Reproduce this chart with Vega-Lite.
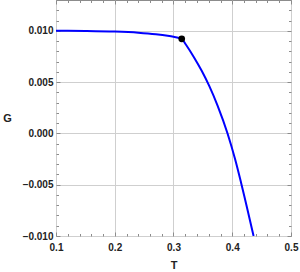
{
  "$schema": "https://vega.github.io/schema/vega-lite/v6.json",
  "width": 235,
  "height": 236,
  "autosize": {"type": "none"},
  "padding": {"left": 56, "top": 0, "right": 9, "bottom": 36},
  "background": "white",
  "config": {
    "view": {"stroke": "#8c8c8c", "strokeWidth": 1},
    "axis": {
      "labelFont": "Liberation Sans",
      "labelFontSize": 10,
      "labelFontWeight": "bold",
      "labelColor": "#222",
      "titleFont": "Liberation Sans",
      "titleFontSize": 11,
      "titleFontWeight": "bold",
      "titleColor": "#222",
      "domain": false,
      "tickColor": "#8c8c8c",
      "gridColor": "#cfcfcf",
      "labelOverlap": false,
      "labelFlush": false
    }
  },
  "datasets": {
    "curve": [
      {"T": 0.100, "G": 0.01000},
      {"T": 0.150, "G": 0.00998},
      {"T": 0.200, "G": 0.00992},
      {"T": 0.240, "G": 0.00981},
      {"T": 0.270, "G": 0.00966},
      {"T": 0.290, "G": 0.00951},
      {"T": 0.300, "G": 0.00941},
      {"T": 0.314, "G": 0.00922},
      {"T": 0.321, "G": 0.00866},
      {"T": 0.335, "G": 0.00740},
      {"T": 0.348, "G": 0.00610},
      {"T": 0.361, "G": 0.00460},
      {"T": 0.375, "G": 0.00271},
      {"T": 0.392, "G": -0.00001},
      {"T": 0.405, "G": -0.00255},
      {"T": 0.415, "G": -0.00480},
      {"T": 0.4363, "G": -0.01000}
    ],
    "pt": [{"T": 0.314, "G": 0.00922}]
  },
  "layer": [
    {
      "data": {"name": "curve"},
      "mark": {"type": "line", "color": "#0000ff", "strokeWidth": 2, "clip": true, "interpolate": "monotone"},
      "encoding": {
        "x": {
          "field": "T", "type": "quantitative",
          "scale": {"domain": [0.1, 0.5], "nice": false, "zero": false},
          "axis": {
            "orient": "bottom",
            "title": "T",
            "titleX": 117.5, "titleY": 29, "titleBaseline": "middle",
            "values": [0.1,0.12,0.14,0.16,0.18,0.2,0.22,0.24,0.26,0.28,0.3,0.32,0.34,0.36,0.38,0.4,0.42,0.44,0.46,0.48,0.5],
            "labelExpr": "abs(datum.value*10 - round(datum.value*10)) < 1e-6 ? format(datum.value, '.1f') : ''",
            "labelPadding": 10,
            "gridOpacity": {"condition": {"test": "abs(datum.value*10 - round(datum.value*10)) < 1e-6", "value": 1}, "value": 0},
            "tickSize": {"condition": {"test": "abs(datum.value*10 - round(datum.value*10)) < 1e-6", "value": -4}, "value": -2.5}
          }
        },
        "y": {
          "field": "G", "type": "quantitative",
          "scale": {"domain": [-0.01, 0.013], "nice": false, "zero": false},
          "axis": {
            "orient": "left",
            "title": "G",
            "titleAngle": 0,
            "titleX": -49, "titleY": 118, "titleAlign": "center", "titleBaseline": "middle",
            "values": [-0.01,-0.009,-0.008,-0.007,-0.006,-0.005,-0.004,-0.003,-0.002,-0.001,0,0.001,0.002,0.003,0.004,0.005,0.006,0.007,0.008,0.009,0.01,0.011,0.012,0.013],
            "labelExpr": "abs(datum.value*200 - round(datum.value*200)) < 1e-6 ? format(datum.value, '.3f') : ''",
            "labelPadding": 7,
            "gridOpacity": {"condition": {"test": "abs(datum.value*200 - round(datum.value*200)) < 1e-6", "value": 1}, "value": 0},
            "tickSize": {"condition": {"test": "abs(datum.value*200 - round(datum.value*200)) < 1e-6", "value": -4}, "value": -2.5}
          }
        }
      }
    },
    {
      "data": {"name": "pt"},
      "mark": {"type": "point", "filled": true, "color": "black", "size": 45, "opacity": 1},
      "encoding": {
        "x": {
          "field": "T", "type": "quantitative",
          "axis": {
            "orient": "top", "title": null, "labels": false, "grid": false,
            "values": [0.1,0.12,0.14,0.16,0.18,0.2,0.22,0.24,0.26,0.28,0.3,0.32,0.34,0.36,0.38,0.4,0.42,0.44,0.46,0.48,0.5],
            "tickSize": {"condition": {"test": "abs(datum.value*10 - round(datum.value*10)) < 1e-6", "value": -4}, "value": -2.5}
          }
        },
        "y": {
          "field": "G", "type": "quantitative",
          "axis": {
            "orient": "right", "title": null, "labels": false, "grid": false,
            "values": [-0.01,-0.009,-0.008,-0.007,-0.006,-0.005,-0.004,-0.003,-0.002,-0.001,0,0.001,0.002,0.003,0.004,0.005,0.006,0.007,0.008,0.009,0.01,0.011,0.012,0.013],
            "tickSize": {"condition": {"test": "abs(datum.value*200 - round(datum.value*200)) < 1e-6", "value": -4}, "value": -2.5}
          }
        }
      }
    }
  ],
  "resolve": {"axis": {"x": "independent", "y": "independent"}}
}
